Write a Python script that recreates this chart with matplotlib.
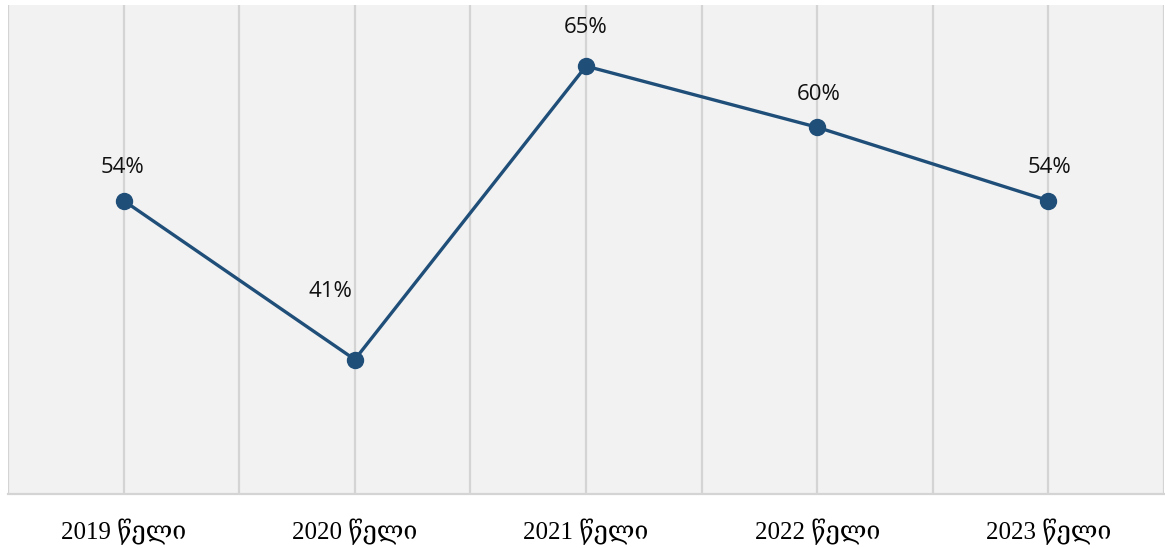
import matplotlib
matplotlib.use("Agg")
import matplotlib.pyplot as plt

# data
years = ["2019 წელი", "2020 წელი", "2021 წელი", "2022 წელი", "2023 წელი"]
values = [54, 41, 65, 60, 54]
labels = ["54%", "41%", "65%", "60%", "54%"]

# label offsets from the marker, in pixels (dx, dy)
label_offsets = [(-1, 33), (-24, 68), (0, 39), (1, 33), (1, 33)]

W, H, DPI = 1165, 548, 100
fig = plt.figure(figsize=(W / DPI, H / DPI), dpi=DPI)
ax = fig.add_axes([8 / W, 54 / H, (W - 9) / W, (494 - 5) / H])
ax.set_facecolor("#f2f2f2")

x = list(range(len(years)))
ax.set_xlim(-0.5, len(years) - 0.5)
ax.set_ylim(30, 70)

# vertical gridlines at categories and between them
grid_x = [i * 0.5 - 0.5 for i in range(2 * len(years) + 1)]
for gx in grid_x:
    ax.axvline(gx, color="#d4d4d4", lw=1.6, zorder=1)

ax.plot(x, values, color="#1f4e79", lw=2.4, marker="o", markersize=11.5,
        zorder=3, solid_capstyle="round")

for xi, v, lab, (dx, dy) in zip(x, values, labels, label_offsets):
    ax.annotate(lab, (xi, v), xytext=(dx, dy), textcoords="offset pixels",
                ha="center", va="center", fontsize=16,
                family=["Open Sans", "DejaVu Sans"], color="#111111")

for s in ["top", "right", "left"]:
    ax.spines[s].set_visible(False)
ax.spines["bottom"].set_color("#d4d4d4")
ax.spines["bottom"].set_linewidth(1.6)

ax.set_yticks([])
ax.set_xticks(x)
ax.set_xticklabels(years, fontsize=18, family=["Liberation Serif", "DejaVu Serif"])
ax.tick_params(axis="x", length=0, pad=18)

fig.savefig("out.png", dpi=DPI)
